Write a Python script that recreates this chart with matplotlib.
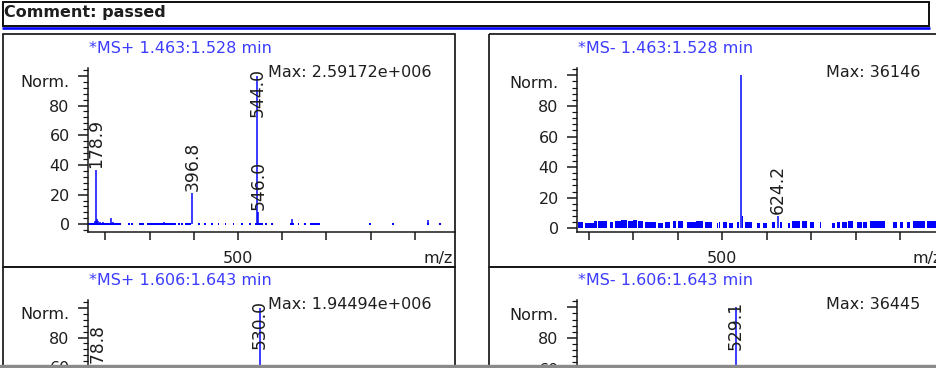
import matplotlib
matplotlib.use('Agg')
import matplotlib.pyplot as plt
from matplotlib.patches import Rectangle
from matplotlib.ticker import FixedLocator, FixedFormatter, MultipleLocator
import matplotlib.transforms as mtransforms

W, H = 936, 368
PX = 0.72  # points per pixel at dpi 100

plt.rcParams['font.family'] = ['DejaVu Sans']
FS = 11.5
LFS = 12.3
BLUE = '#0000ff'
TITLE_BLUE = '#3c3cff'
TXT = '#1e1e1e'
LINE = '#141414'

# ---------------- data ----------------
comment = "Comment: passed"

x_ticks = [200, 300, 400, 500, 600, 700, 800, 900]
x_tick_labels = ['', '', '', '500', '', '', '', '']
y_ticks = [0, 20, 40, 60, 80, 100]
y_tick_labels = ['0', '20', '40', '60', '80', '']
y_name = "Norm."
x_name = "m/z"

# top-left : MS+
p1_title = "*MS+ 1.463:1.528 min"
p1_max = "Max: 2.59172e+006"
p1_peak_mz = [178.9, 396.8, 546.0, 544.0]
p1_peak_int = [36.6, 20.9, 8.5, 100.0]
p1_peak_labels = ["178.9", "396.8", "546.0", "544.0"]
p1_noise_mz = [176.0, 181.0, 184.5, 188.0, 196.0, 213.0, 216.5, 332.0, 622.0, 930.0]
p1_noise_int = [2.5, 3.5, 2.0, 1.5, 1.2, 4.4, 1.5, 1.5, 3.5, 3.0]
p1_base_start = [161, 251, 258, 277, 283, 294, 364, 372, 381, 409, 424, 439, 454, 470,
                 488, 507, 526, 538, 562, 574, 617, 635, 650, 663, 797, 849, 928, 955]
p1_base_end = [236, 255, 263, 282, 288, 360, 368, 376, 394, 413, 428, 443, 458, 474,
               492, 511, 530, 556, 566, 578, 626, 639, 654, 686, 801, 853, 932, 959]

# top-right : MS-
p2_title = "*MS- 1.463:1.528 min"
p2_max = "Max: 36146"
p2_peak_mz = [542.0, 624.2]
p2_peak_int = [100.0, 8.0]
p2_peak_labels = ["", "624.2"]
p2_block_start = [176, 191, 212, 221, 248, 259, 272, 289, 300, 311, 326, 356, 371, 390,
                  401, 420, 440, 461, 487, 492, 502, 514, 533, 543.5, 551, 577, 592, 611,
                  629, 648, 656, 678, 697, 719, 746, 757, 768, 783, 802, 817, 832, 884,
                  899, 914, 929, 959]
p2_block_end = [188, 212, 218, 240, 255, 272, 285, 300, 308, 322, 352, 367, 382, 397,
                412, 440, 457, 476, 490, 495, 510, 525, 537, 547, 566, 585, 600, 618,
                634, 652, 675, 690, 705, 721, 753, 765, 780, 794, 813, 825, 866, 892,
                907, 922, 956, 980]
p2_block_height = [4.0, 3.5, 4.5, 5.0, 4.0, 5.0, 5.5, 5.0, 5.5, 4.5, 4.0, 3.5, 4.0, 5.0,
                   4.5, 4.0, 4.5, 4.0, 3.5, 4.0, 4.0, 3.5, 4.0, 8.0, 4.0, 3.5, 3.5, 4.0,
                   4.0, 3.5, 4.5, 4.5, 4.0, 4.0, 3.5, 4.0, 4.0, 4.5, 4.0, 4.0, 4.5, 4.0,
                   4.0, 4.0, 4.5, 4.5]

# bottom-left : MS+
p3_title = "*MS+ 1.606:1.643 min"
p3_max = "Max: 1.94494e+006"
p3_peak_mz = [178.8, 399.0, 530.0]
p3_peak_int = [55.0, 29.0, 100.0]
p3_peak_labels = ["178.8", "399.0", "530.0"]

# bottom-right : MS-
p4_title = "*MS- 1.606:1.643 min"
p4_max = "Max: 36445"
p4_peak_mz = [529.1]
p4_peak_int = [100.0]
p4_peak_labels = ["529.1"]

# ---------------- figure ----------------
fig = plt.figure(figsize=(W / 100, H / 100), dpi=100)
fig.patch.set_facecolor('white')

bg = fig.add_axes([0, 0, 1, 1])
bg.set_xlim(0, W)
bg.set_ylim(H, 0)
bg.axis('off')

# comment box
bg.add_patch(Rectangle((2.5, 1.5), 926.5, 24, fill=False, lw=2 * PX, ec=LINE))
bg.plot([2, 929.5], [28, 28], color=BLUE, lw=2.6 * PX, solid_capstyle='butt')
bg.text(3.5, 16.7, comment, fontsize=FS, fontweight='bold', color=TXT, va='baseline', ha='left')

# panel frames
for (x0, y0, w, h) in [(3, 33.5, 452, 233.5), (3, 267, 452, 300),
                       (488.5, 33.5, 500, 233.5), (488.5, 267, 500, 300)]:
    bg.add_patch(Rectangle((x0, y0), w, h, fill=False, lw=1.7 * PX, ec=LINE))


def make_axes(left, top, width, bottom, xlim, ylim):
    ax = fig.add_axes([left / W, 1 - bottom / H, width / W, (bottom - top) / H])
    ax.patch.set_alpha(0)
    ax.set_xlim(*xlim)
    ax.set_ylim(*ylim)
    for s in ['top', 'right']:
        ax.spines[s].set_visible(False)
    for s in ['left', 'bottom']:
        ax.spines[s].set_linewidth(1.5 * PX)
        ax.spines[s].set_color(LINE)
    ax.xaxis.set_major_locator(FixedLocator(x_ticks))
    ax.xaxis.set_major_formatter(FixedFormatter(x_tick_labels))
    ax.yaxis.set_major_locator(FixedLocator(y_ticks))
    ax.yaxis.set_major_formatter(FixedFormatter(y_tick_labels))
    ax.yaxis.set_minor_locator(MultipleLocator(4))
    ax.tick_params(axis='x', which='major', direction='out', length=8 * PX, width=1.5 * PX,
                   pad=11.5 * PX, labelsize=FS, color=LINE, labelcolor=TXT)
    ax.tick_params(axis='y', which='major', direction='out', length=10 * PX, width=1.5 * PX,
                   pad=8 * PX, labelsize=FS, color=LINE, labelcolor=TXT)
    ax.tick_params(axis='y', which='minor', direction='out', length=5 * PX, width=1.2 * PX,
                   color=LINE)
    return ax


def place(ax, dx, dy, s, **kw):
    tr = ax.transAxes + mtransforms.ScaledTranslation(dx / 100, -dy / 100, fig.dpi_scale_trans)
    return ax.text(0, 1, s, transform=tr, clip_on=False, **kw)


def decorate(ax, width, title, maxtxt):
    place(ax, 1.6, -15.3, title, color=TITLE_BLUE, fontsize=FS, ha='left', va='baseline')
    place(ax, 344, 9, maxtxt, color=TXT, fontsize=FS, ha='right', va='baseline')
    place(ax, -18.5, 19.3, y_name, color=TXT, fontsize=FS, ha='right', va='baseline')
    place(ax, width - 2, 195, x_name, color=TXT, fontsize=FS, ha='right', va='baseline')


labels_all = []


def peaks(ax, mz, inten, labels):
    ax.vlines(mz, [0] * len(mz), inten, color=BLUE, lw=1.5 * PX, zorder=3)
    for m, v, lab in zip(mz, inten, labels):
        if lab:
            t = ax.annotate(lab, xy=(m, v), xytext=(0, 1.5), textcoords='offset points',
                            rotation=90, ha='center', va='bottom', fontsize=LFS, color=TXT,
                            annotation_clip=False, zorder=4)
            labels_all.append((ax, t, m))


AXW = 367.3
# top-left
ax1 = make_axes(87.7, 68, AXW, 231.7, (160.3, 990.5), (-5.0, 105.3))
ax1.hlines([0] * len(p1_base_start), p1_base_start, p1_base_end, color=BLUE, lw=2 * PX)
ax1.vlines(p1_noise_mz, [0] * len(p1_noise_mz), p1_noise_int, color=BLUE, lw=1.5 * PX)
peaks(ax1, p1_peak_mz, p1_peak_int, p1_peak_labels)
decorate(ax1, AXW, p1_title, p1_max)

# top-right
ax2 = make_axes(576.7, 68.3, AXW, 231.7, (172.8, 998.0), (-2.2, 104.6))
ax2.bar(p2_block_start, p2_block_height,
        width=[e - s for s, e in zip(p2_block_start, p2_block_end)],
        align='edge', color=BLUE, lw=0)
peaks(ax2, p2_peak_mz, p2_peak_int, p2_peak_labels)
decorate(ax2, AXW, p2_title, p2_max)

# bottom-left
ax3 = make_axes(87.7, 300, AXW, 463.7, (158.8, 950.4), (-5.0, 105.3))
peaks(ax3, p3_peak_mz, p3_peak_int, p3_peak_labels)
decorate(ax3, AXW, p3_title, p3_max)

# bottom-right
ax4 = make_axes(576.7, 300.3, AXW, 463.7, (171.1, 996.5), (-2.2, 104.6))
peaks(ax4, p4_peak_mz, p4_peak_int, p4_peak_labels)
decorate(ax4, AXW, p4_title, p4_max)

# keep peak labels inside the plotting area
fig.canvas.draw()
r = fig.canvas.get_renderer()
for ax, t, m in labels_all:
    bb = t.get_window_extent(r)
    abb = ax.get_window_extent(r)
    if bb.y1 > abb.y1:
        t.xy = (m, ax.get_ylim()[1])
        t.set_position((0, 0))
        t.set_va('top')

fig.add_artist(Rectangle((0, 0), 1, 3 / H, transform=fig.transFigure,
                         color='#8a8a8a', zorder=20))

fig.savefig('out.png', dpi=100, facecolor='white')
